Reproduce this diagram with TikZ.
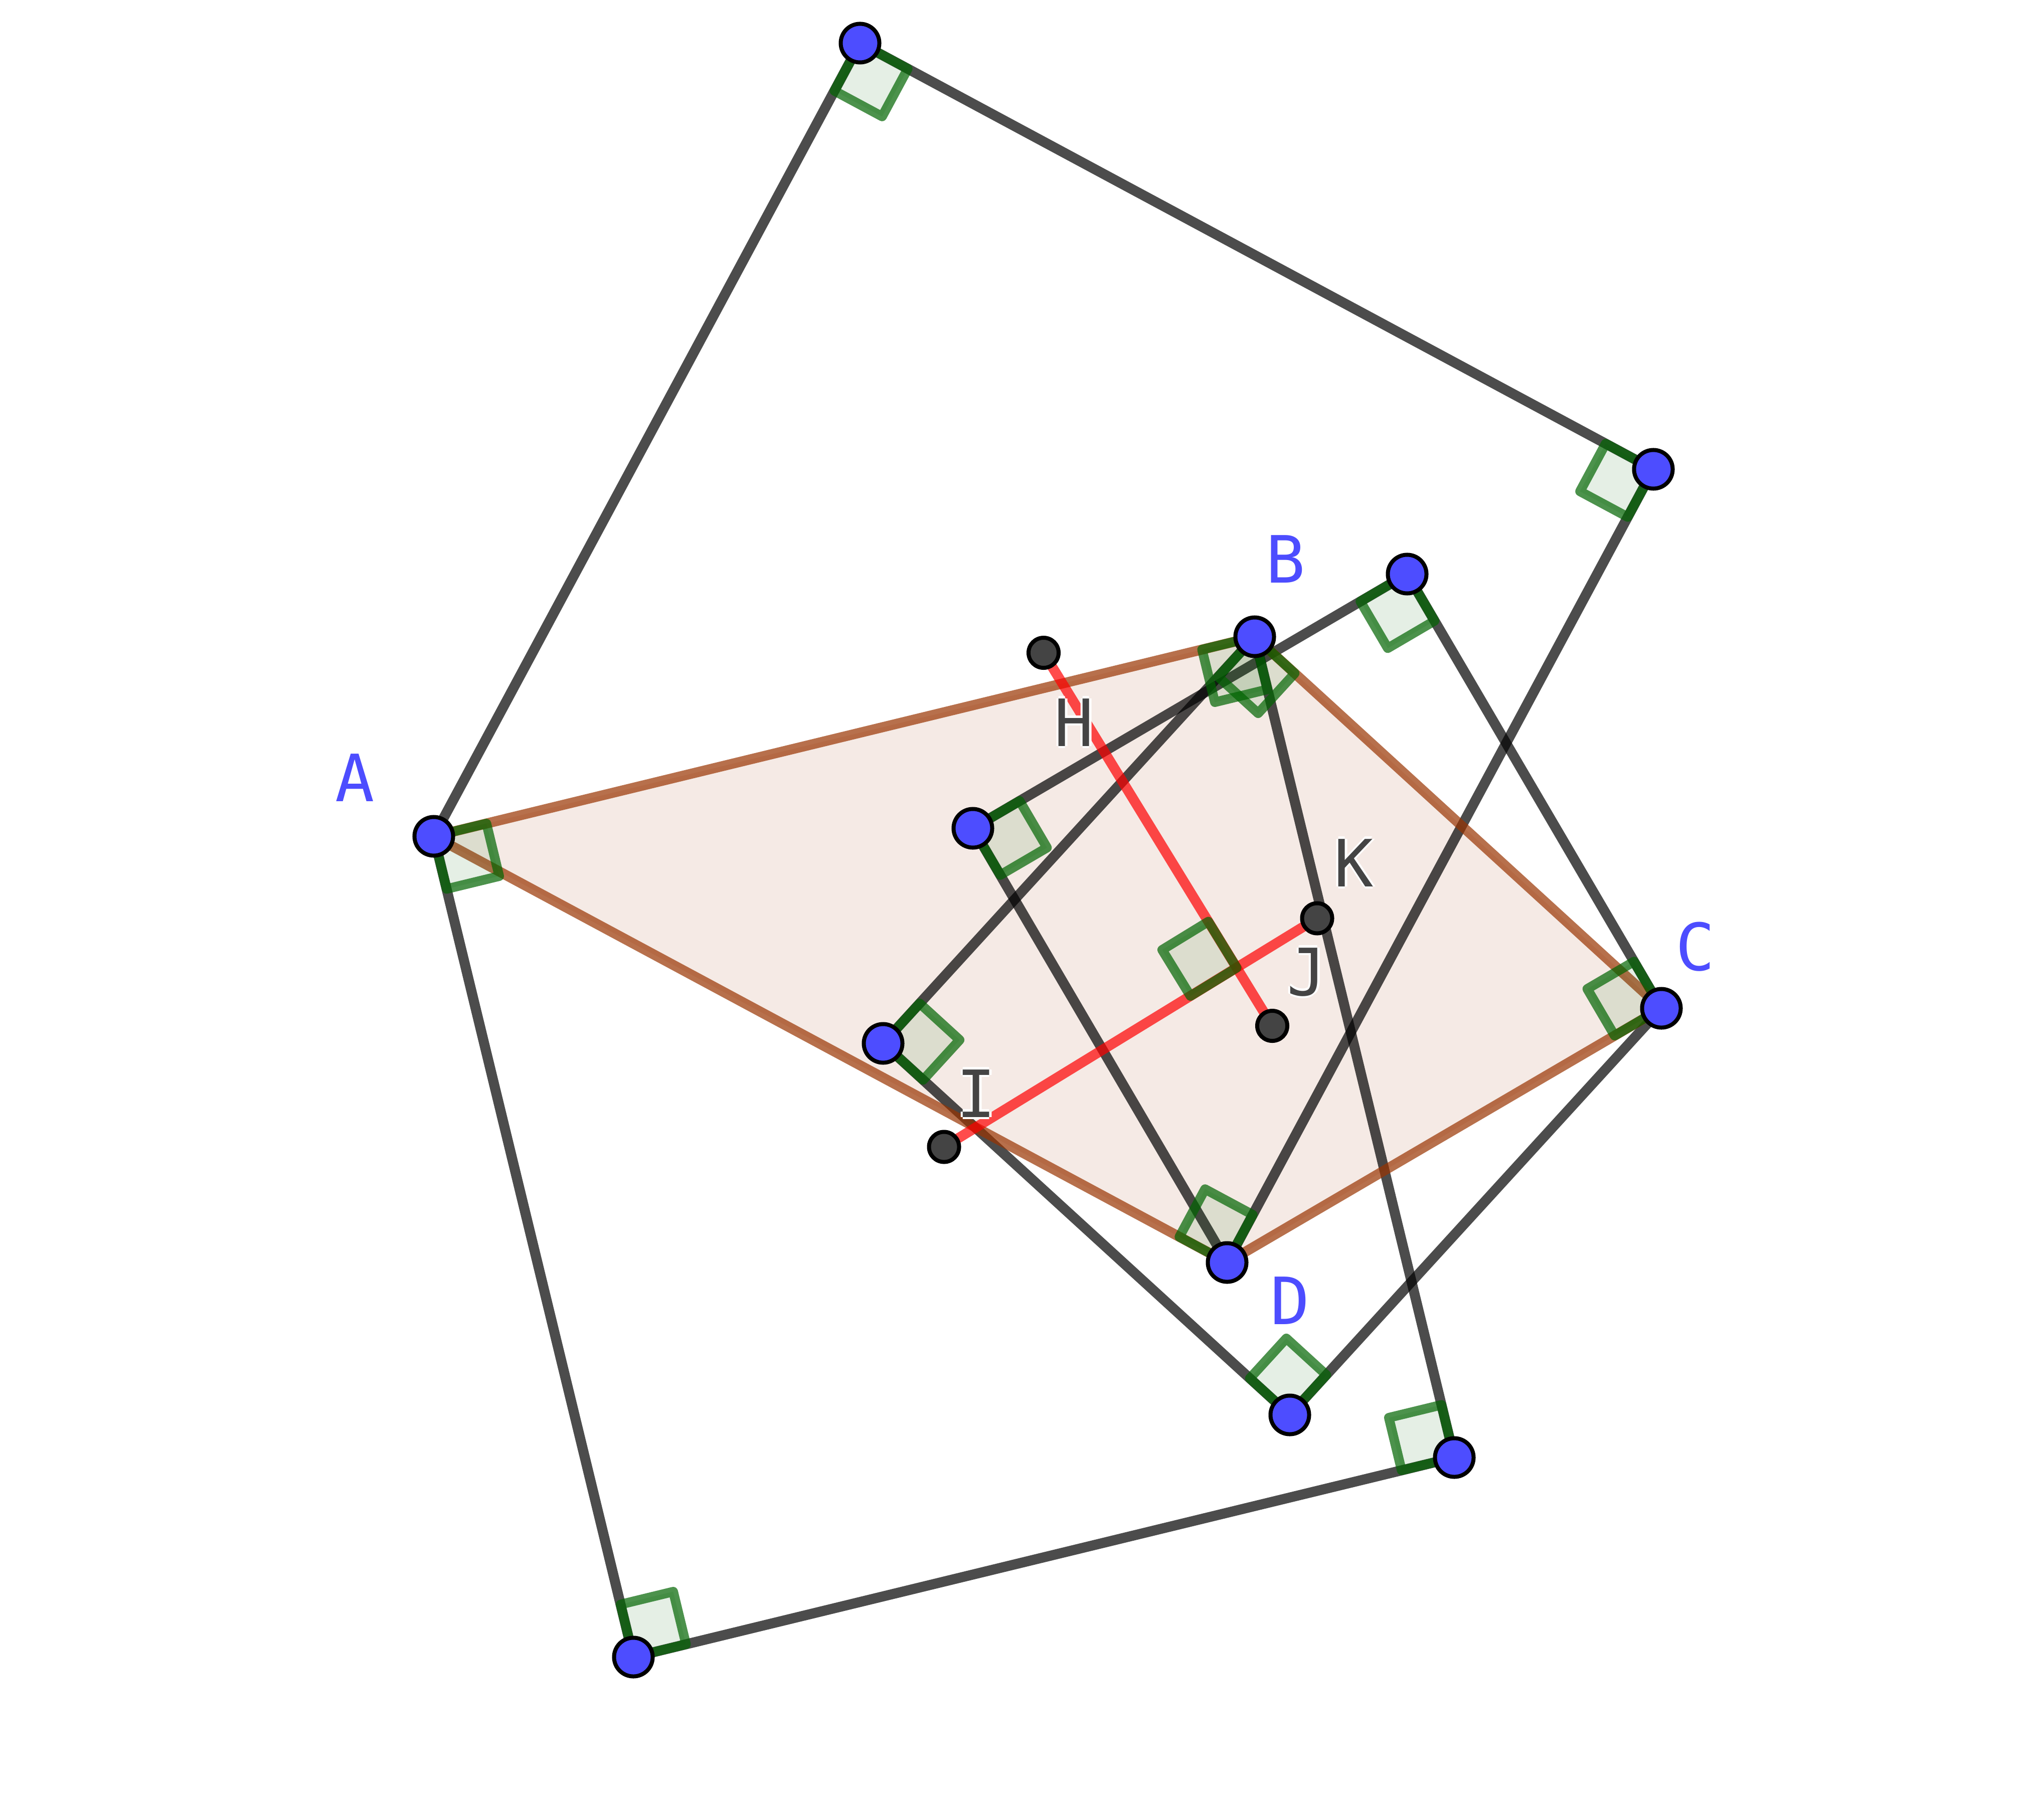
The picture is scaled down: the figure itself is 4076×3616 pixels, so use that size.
\documentclass[tikz,border=0pt]{standalone}
\usepackage{fontspec}
\newfontfamily\lblfont{DejaVu Sans Mono}
\usetikzlibrary{calc}
\definecolor{ptblue}{RGB}{77,77,255}
\definecolor{ptgray}{RGB}{68,68,68}
\definecolor{polybrown}{RGB}{153,51,0}
\definecolor{angreen}{RGB}{0,100,0}
\newcommand\halo[1]{%
  \rlap{\textcolor{white}{\kern-1.2pt#1}}%
  \rlap{\textcolor{white}{\kern1.2pt#1}}%
  \rlap{\textcolor{white}{\raisebox{1.2pt}{#1}}}%
  \rlap{\textcolor{white}{\raisebox{-1.2pt}{#1}}}%
  #1}
\newcommand\ms{1.08cm}
\tikzset{
  side/.style={draw=black, draw opacity=.7, line width=.2cm},
  polyedge/.style={draw=polybrown, draw opacity=.7, line width=.2cm},
  redseg/.style={draw=red, draw opacity=.7, line width=.2cm},
  anglemark/.style={draw=angreen, draw opacity=.7, fill=angreen, fill opacity=.1, line width=.19cm, line join=round},
  bluedot/.style={circle, draw=black, fill=ptblue, line width=.08cm, minimum size=.77cm, inner sep=0pt},
  graydot/.style={circle, draw=black, fill=ptgray, line width=.08cm, minimum size=.6cm, inner sep=0pt},
  lbl/.style={font=\lblfont\fontsize{37}{44}\selectfont, anchor=base, inner sep=0pt},
}
\begin{document}
\begin{tikzpicture}[x=0.01cm, y=-0.01cm]
\useasboundingbox (0,0) rectangle (4076,3616);
% quadrilateral
\coordinate (A) at (865,1668);
\coordinate (B) at (2502,1270);
\coordinate (C) at (3313,2011);
\coordinate (D) at (2447,2518);
% squares on the sides
\coordinate (ab1) at (1263,3305);
\coordinate (ab2) at (2900,2907);
\coordinate (bc1) at (1761,2081);
\coordinate (bc2) at (2572,2822);
\coordinate (cd1) at (2806,1145);
\coordinate (cd2) at (1940,1652);
\coordinate (da1) at (3297,936);
\coordinate (da2) at (1715,86);
% centres
\coordinate (H) at ($(A)!.5!(da1)$);
\coordinate (I) at ($(A)!.5!(ab2)$);
\coordinate (J) at ($(B)!.5!(bc2)$);
\coordinate (K) at ($(C)!.5!(cd2)$);
\coordinate (X) at (intersection of H--J and I--K);

\fill[polybrown, fill opacity=.1] (A)--(B)--(C)--(D)--cycle;
\draw[side] (A)--(da2); \draw[side] (da2)--(da1); \draw[side] (da1)--(D);
\draw[side] (A)--(ab1); \draw[side] (ab1)--(ab2); \draw[side] (ab2)--(B);
\draw[side] (B)--(bc1); \draw[side] (bc1)--(bc2); \draw[side] (bc2)--(C);
\draw[side] (C)--(cd1); \draw[side] (cd1)--(cd2); \draw[side] (cd2)--(D);
\draw[polyedge] (A)--(B); \draw[polyedge] (B)--(C);
\draw[polyedge] (C)--(D); \draw[polyedge] (D)--(A);
\draw[redseg] (H)--(J);
\draw[redseg] (I)--(K);
% right angles
\foreach \v/\p/\q in {da2/A/da1, da1/da2/D, D/A/da1, A/B/ab1, B/A/ab2, ab2/B/ab1, ab1/A/ab2,
    B/C/bc1, bc1/B/bc2, bc2/bc1/C, C/D/cd1, cd1/C/cd2, cd2/cd1/D, X/H/I}
  \draw[anglemark] (\v) -- ($(\v)!\ms!(\p)$) -- ($(\v)!\ms!(\p) + (\v)!\ms!(\q) - (\v)$) -- ($(\v)!\ms!(\q)$) -- cycle;

\node[lbl, text=ptblue] (lA) at (708,1598) {A};
\node[lbl, text=ptblue] (lB) at (2564,1162) {B};
\node[lbl, text=ptblue] (lC) at (3381,1935) {C};
\node[lbl, text=ptblue] (lD) at (2573,2641) {D};
\node[lbl, text=ptgray] (lH) at (2142,1488) {\halo{H}};
\node[lbl, text=ptgray] (lI) at (1947,2228) {\halo{I}};
\node[lbl, text=ptgray] (lJ) at (2606,1985) {\halo{J}};
\node[lbl, text=ptgray] (lK) at (2700,1768) {\halo{K}};

\foreach \p in {A,B,C,D,ab1,ab2,bc1,bc2,cd1,cd2,da1,da2}
  \node[bluedot] (dot\p) at (\p) {};
\foreach \p in {H,I,J,K}
  \node[graydot] (dot\p) at (\p) {};
\end{tikzpicture}
\end{document}
